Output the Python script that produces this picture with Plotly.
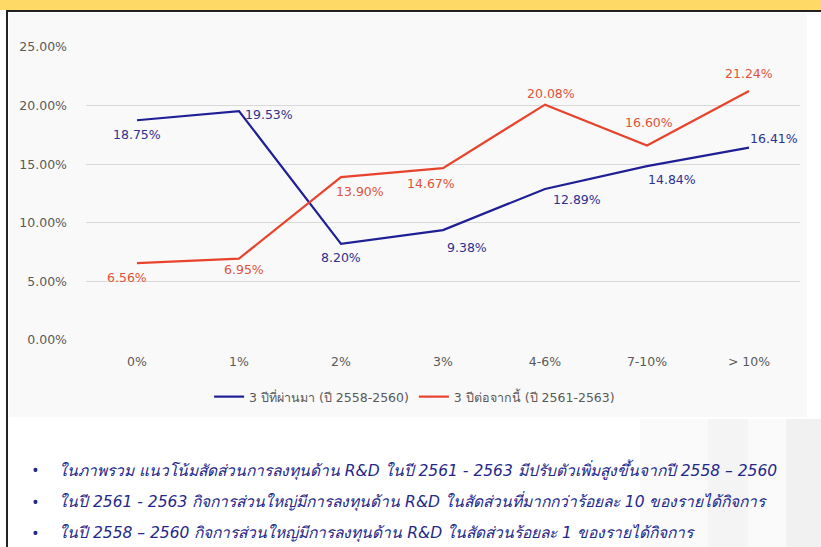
import plotly.graph_objects as go

categories = ["0%", "1%", "2%", "3%", "4-6%", "7-10%", "> 10%"]
past_values = [18.75, 19.53, 8.20, 9.38, 12.89, 14.84, 16.41]
future_values = [6.56, 6.95, 13.90, 14.67, 20.08, 16.60, 21.24]
past_name = "3 ปีที่ผ่านมา (ปี 2558-2560)"
future_name = "3 ปีต่อจากนี้ (ปี 2561-2563)"
y_ticks = [0, 5, 10, 15, 20, 25]
bullets = [
    "ในภาพรวม แนวโน้มสัดส่วนการลงทุนด้าน R&D ในปี 2561 - 2563 มีปรับตัวเพิ่มสูงขึ้นจากปี 2558 – 2560",
    "ในปี 2561 - 2563 กิจการส่วนใหญ่มีการลงทุนด้าน R&D ในสัดส่วนที่มากกว่าร้อยละ 10 ของรายได้กิจการ",
    "ในปี 2558 – 2560 กิจการส่วนใหญ่มีการลงทุนด้าน R&D ในสัดส่วนร้อยละ 1 ของรายได้กิจการ",
]

# label offsets in pixels (dx, dy-up)
past_label_shift = [(0, -14), (30, -3), (0, -14), (24, -17), (32, -11), (25, -13), (25, 9)]
future_label_shift = [(-10, -14), (5, -11), (19, -14), (-12, -15), (6, 11), (2, 23), (0, 18)]

W, H = 821, 547
def px(x): return x / W
def py(y): return 1 - y / H

fig = go.Figure()
fig.add_trace(go.Scatter(
    x=categories, y=past_values, name=past_name, mode="lines",
    line=dict(color="#1F1F96", width=2.2),
))
fig.add_trace(go.Scatter(
    x=categories, y=future_values, name=future_name, mode="lines",
    line=dict(color="#E8432D", width=2.2),
))

annotations = []
for vals, shifts, col in [(past_values, past_label_shift, "#2E3192"),
                          (future_values, future_label_shift, "#E0533A")]:
    for c, v, (dx, dy) in zip(categories, vals, shifts):
        annotations.append(dict(x=c, y=v, xref="x", yref="y", text=f"{v:.2f}%",
                                showarrow=False, xshift=dx, yshift=dy,
                                xanchor="center", yanchor="middle",
                                font=dict(size=12.5, color=col, family="DejaVu Sans")))

shapes = [
    dict(type="rect", xref="paper", yref="paper", x0=0, x1=1, y0=py(10), y1=1,
         fillcolor="#FFD966", line=dict(width=0), layer="below"),
    dict(type="rect", xref="paper", yref="paper", x0=px(9), x1=px(807), y0=py(417), y1=py(13),
         fillcolor="#F9F9F9", line=dict(width=0), layer="below"),
    dict(type="rect", xref="paper", yref="paper", x0=px(640), x1=1, y0=0, y1=py(419),
         fillcolor="#FAFAFA", line=dict(width=0), layer="below"),
    dict(type="rect", xref="paper", yref="paper", x0=px(708), x1=px(748), y0=0, y1=py(419),
         fillcolor="#F4F4F4", line=dict(width=0), layer="below"),
    dict(type="rect", xref="paper", yref="paper", x0=px(786), x1=1, y0=0, y1=py(419),
         fillcolor="#F1F1F1", line=dict(width=0), layer="below"),
    dict(type="line", xref="paper", yref="paper", x0=px(6), x1=1, y0=py(11), y1=py(11),
         line=dict(color="#222222", width=2)),
    dict(type="line", xref="paper", yref="paper", x0=px(7), x1=px(7), y0=0, y1=py(11),
         line=dict(color="#222222", width=2)),
]

for i, t in enumerate(bullets):
    yy = 470 + i * 31.5
    annotations.append(dict(xref="paper", yref="paper", x=px(35), y=py(yy), text="•",
                            showarrow=False, xanchor="center", yanchor="middle",
                            font=dict(size=18, color="#24288A")))
    annotations.append(dict(xref="paper", yref="paper", x=px(57), y=py(yy),
                            text=f"<i>{t}</i>", showarrow=False, xanchor="left",
                            yanchor="middle", font=dict(size=15.5, color="#24288A",
                                                        family="DejaVu Sans")))

fig.update_layout(
    width=W, height=H, margin=dict(l=0, r=0, t=0, b=0, autoexpand=False),
    paper_bgcolor="white", plot_bgcolor="rgba(0,0,0,0)",
    shapes=shapes, annotations=annotations,
    showlegend=True, hovermode=False,
    legend=dict(orientation="h", x=0.505, xanchor="center", y=py(397), yanchor="middle",
                font=dict(size=12.5, color="#595959", family="DejaVu Sans"),
                bgcolor="rgba(0,0,0,0)", tracegroupgap=0),
    xaxis=dict(domain=[px(86), px(800)], range=[-0.5, 6.5], showgrid=False, showline=False,
               automargin=False,
               ticks="", tickfont=dict(size=12.5, color="#595959", family="DejaVu Sans"),
               ticklabelstandoff=12),
    yaxis=dict(domain=[py(340), py(47)], range=[0, 25], tickvals=y_ticks,
               ticktext=[f"{v:.2f}%" for v in y_ticks], automargin=False,
               gridcolor="#D9D9D9", gridwidth=1, zeroline=False, showline=False,
               tickfont=dict(size=12.5, color="#595959", family="DejaVu Sans"),
               ticklabelstandoff=18),
)

post = (
    "document.documentElement.style.margin='0';"
    "document.body.style.margin='0';"
    "document.documentElement.style.overflow='hidden';"
    "document.body.style.overflow='hidden';"
    "var d=document.getElementById('{plot_id}');"
    "d.style.position='fixed';d.style.left='0px';d.style.top='0px';"
)
fig.write_html("out.html", post_script=post,
               config={"displayModeBar": False, "responsive": False})
